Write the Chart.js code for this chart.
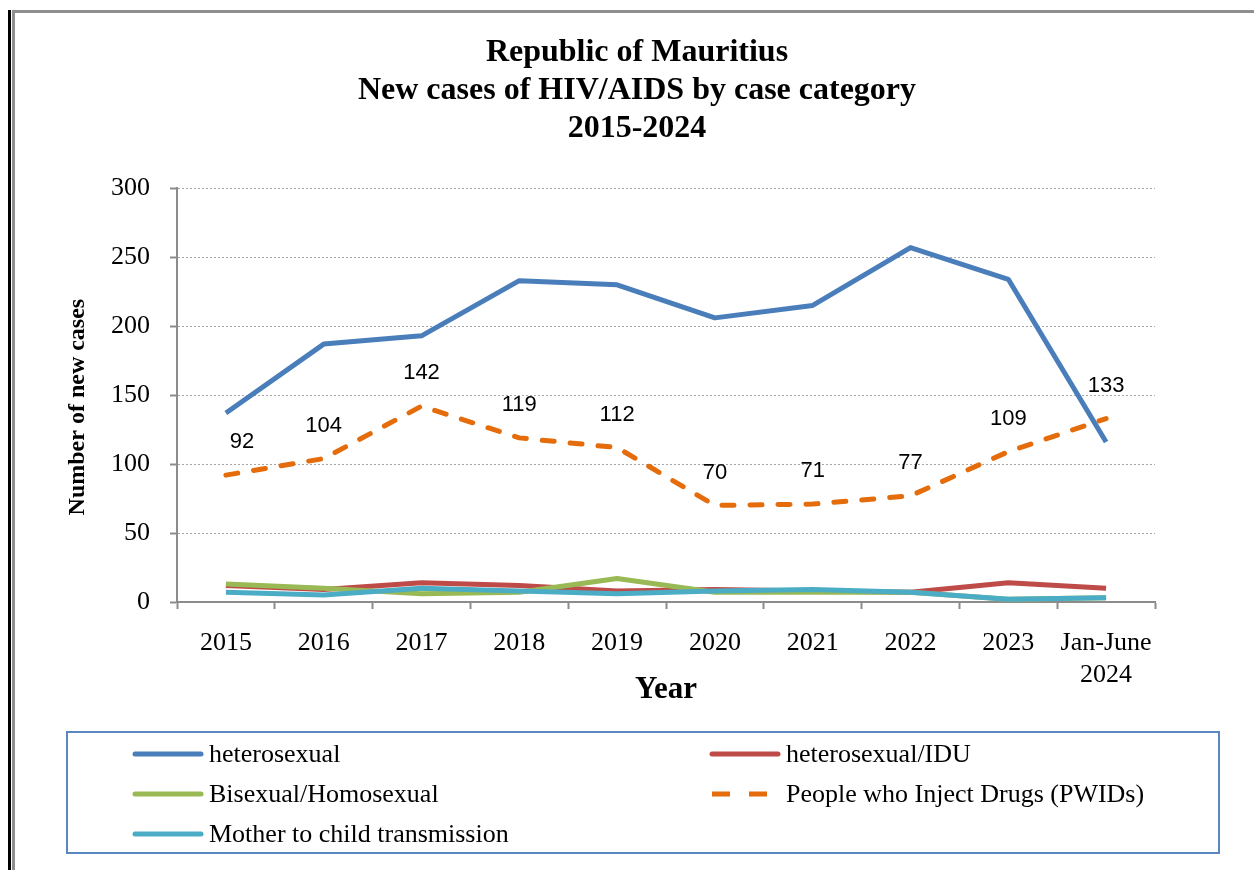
<!DOCTYPE html>
<html>
<head>
<meta charset="utf-8">
<script src="https://cdn.jsdelivr.net/npm/chart.js@4.4.1/dist/chart.umd.min.js"></script>
<style>
  html, body { margin: 0; padding: 0; background: #fff; }
  body { width: 1254px; height: 870px; position: relative; overflow: hidden; font-family: 'Liberation Serif', 'Times New Roman', serif; }
  #borda { position: absolute; left: 8px; top: 10px; width: 3px; height: 860px; background: #000; }
  #moldura { position: absolute; left: 12px; top: 10px; width: 1260px; height: 880px; border-top: 3px solid #8f8f8f; border-left: 3px solid #8f8f8f; }
  #grafico { position: absolute; left: 0; top: 0; }
  #legenda { position: absolute; left: 66px; top: 731px; width: 1154px; height: 123px; box-sizing: border-box; border: 2px solid #5b87c0; display: grid; grid-template-columns: 577px 573px; grid-auto-rows: 40px; padding-top: 1px; }
  .item { display: flex; align-items: center; font-size: 26px; color: #000; padding-left: 64px; }
  .item svg { margin-right: 5px; }
</style>
</head>
<body>
<div id="borda"></div>
<div id="moldura"></div>
<canvas id="grafico" width="1254" height="870"></canvas>
<div id="legenda"></div>
<script>
const anos = ['2015', '2016', '2017', '2018', '2019', '2020', '2021', '2022', '2023', ['Jan-June', '2024']];
const heterosexual = [137, 187, 193, 233, 230, 206, 215, 257, 234, 116];
const heterosexualIDU = [12, 9, 14, 12, 8, 9, 8, 7, 14, 10];
const bisexual = [13, 10, 6, 7, 17, 7, 7, 7, 2, 3];
const pwid = [92, 104, 142, 119, 112, 70, 71, 77, 109, 133];
const maeFilho = [7, 5, 10, 8, 6, 8, 9, 7, 2, 3];
const yTicks = [0, 50, 100, 150, 200, 250, 300];

const series = [
  { label: 'heterosexual', data: heterosexual, cor: '#4A7EBB', dash: [], order: 5 },
  { label: 'heterosexual/IDU', data: heterosexualIDU, cor: '#BE4B48', dash: [], order: 4 },
  { label: 'Bisexual/Homosexual', data: bisexual, cor: '#98B954', dash: [], order: 3 },
  { label: 'People who Inject Drugs (PWIDs)', data: pwid, cor: '#E46C0A', dash: [12, 16], order: 2 },
  { label: 'Mother to child transmission', data: maeFilho, cor: '#4BACC6', dash: [], order: 1 }
];

Chart.defaults.font.family = "'Liberation Serif', 'Times New Roman', serif";
Chart.defaults.color = '#000';

// rotulos dos valores de PWID
const rotulos = {
  id: 'rotulos',
  afterDatasetsDraw(chart) {
    const ctx = chart.ctx;
    const meta = chart.getDatasetMeta(3);
    ctx.save();
    ctx.font = '22px "Liberation Sans", Arial, sans-serif';
    ctx.fillStyle = '#000';
    ctx.textAlign = 'center';
    ctx.textBaseline = 'middle';
    meta.data.forEach((pt, i) => {
      const dx = i === 0 ? 16 : 0;
      ctx.fillText(pwid[i], pt.x + dx, pt.y - 33);
    });
    ctx.restore();
  }
};

const grafico = document.getElementById('grafico');
new Chart(grafico, {
  type: 'line',
  data: {
    labels: anos,
    datasets: series.map(s => ({
      label: s.label,
      data: s.data,
      borderColor: s.cor,
      backgroundColor: s.cor,
      borderWidth: 5,
      borderDash: s.dash,
      borderCapStyle: s.dash.length ? 'round' : 'butt',
      borderJoinStyle: 'round',
      pointRadius: 0,
      tension: 0,
      order: s.order
    }))
  },
  options: {
    responsive: false,
    animation: false,
    layout: { padding: { left: 50, right: 30, top: 0, bottom: 150 } },
    plugins: {
      legend: { display: false },
      tooltip: { enabled: false },
      title: {
        display: true,
        text: ['Republic of Mauritius', 'New cases of HIV/AIDS by case category', '2015-2024'],
        font: { size: 32, weight: 'bold', lineHeight: 1.19 },
        color: '#000',
        padding: { top: 34, bottom: 40 }
      }
    },
    scales: {
      x: {
        offset: true,
        afterFit(scale) { scale.height = 118; },
        grid: { drawOnChartArea: false, offset: true, tickLength: 7, tickColor: '#8c8c8c', tickWidth: 2 },
        border: { color: '#8c8c8c', width: 2 },
        ticks: { font: { size: 26 }, color: '#000', padding: 19, maxRotation: 0, autoSkip: false },
        title: { display: true, text: 'Year', font: { size: 31, weight: 'bold' }, color: '#000', padding: { top: 0, bottom: 11 } }
      },
      y: {
        min: 0,
        max: 300,
        afterFit(scale) { scale.width = 127; },
        afterBuildTicks(scale) { scale.ticks = yTicks.map(v => ({ value: v })); },
        grid: { color: '#a6a6a6', lineWidth: 1, tickLength: 7, tickColor: '#8c8c8c', tickWidth: 2 },
        border: { color: '#8c8c8c', width: 2, dash: [2, 2] },
        ticks: { font: { size: 26 }, color: '#000', padding: 20 },
        title: { display: true, text: 'Number of new cases    ', font: { size: 24, weight: 'bold' }, color: '#000', padding: { top: 13, bottom: 0 } }
      },
      // eixo vazio a direita, so para centrar o titulo como no original
      y2: {
        position: 'right',
        min: 0,
        max: 300,
        afterFit(scale) { scale.width = 69; },
        grid: { display: false },
        border: { display: false },
        ticks: { display: false }
      }
    }
  },
  plugins: [rotulos]
});

// legenda em html
const legenda = document.getElementById('legenda');
series.forEach(s => {
  const item = document.createElement('div');
  item.className = 'item';
  const dash = s.dash.length ? ' stroke-dasharray="18 19"' : '';
  const cap = s.dash.length ? 'butt' : 'round';
  item.innerHTML = '<svg width="72" height="10"><line x1="3" y1="5" x2="69" y2="5" stroke="' + s.cor +
    '" stroke-width="5" stroke-linecap="' + cap + '"' + dash + '/></svg><span>' + s.label + '</span>';
  legenda.appendChild(item);
});
</script>
</body>
</html>
